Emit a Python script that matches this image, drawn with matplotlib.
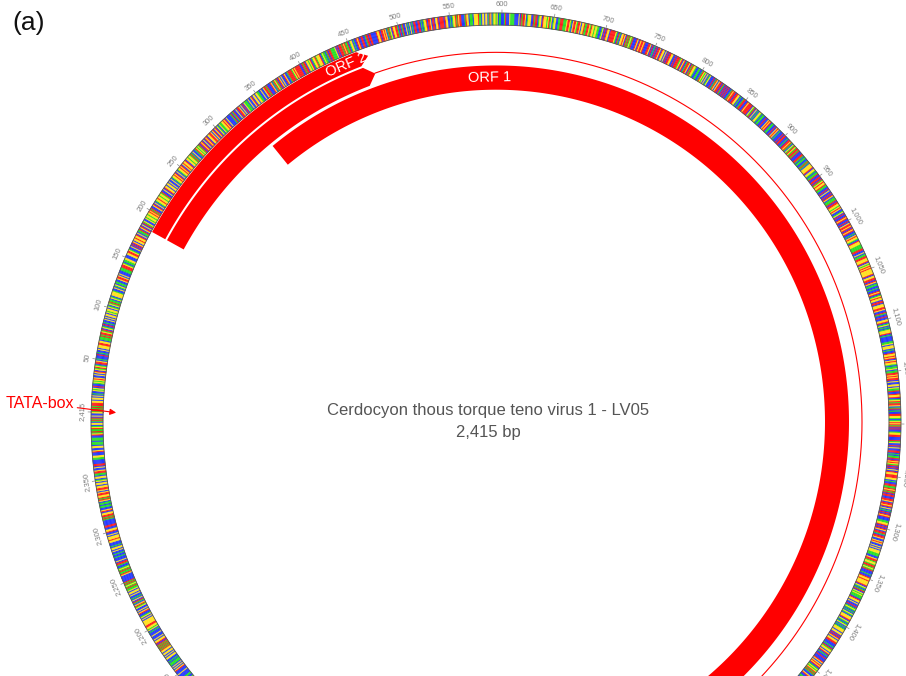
import matplotlib.pyplot as plt
import numpy as np

plt.rcParams['font.family'] = ['Liberation Sans', 'DejaVu Sans']

# genome data
GENOME_LEN = 2415
seq = (
    "TAATATAAAGGCGGCGCTCCGTGCACCTGTGAGCCGCGACGTAGTCAAGCTCCCACTCCG"
    "CGGGAAGGCTTTATAAGTACGTCACTCCGCGCGGCGTGGCGTCGTATTCGTCGGGGTCCG"
    "CTGCTTCCGAAGCGCCCTTTAAAGTCTTGGCCCGGAAGTCCGCACAGCGGAGGACGCTTA"
    "CGACGCATGCCGTGGTGGAGATACCGACGCTGGAGGTGGTACCGCAGGCGGCGCCGCTGG"
    "AGACGCTGGAGACGAGGACGGTGGTATCGCCTAGTGTACAGACGCAGACGGAAGCGACGA"
    "CGTCGTTGGAGACGCCCCTACTACCGCAAGCGCACGTTTCGCCGACGGCGGTTCCGCCGA"
    "ATACCCAGCTAGTACAGCGCCAGCCTAAAATGAGAAAAACCATAACGGTGACTGGATGGG"
    "ACTGTTCTACAATTTTGCACAAATAGATTACTGGCTCCAGACCAACCTAACAACCCCCAG"
    "GACAAGAGCTATGCAGGAATCACTACCGCTCGCTCAACCAACTCTGGACAAGCAACGGAC"
    "AAAACAGGCCTCTGGATAGAACCCTAGGCTTTCGGGGATTCGGCGGCTAGCTGGTGCTTC"
    "CCTACCCGTTTTCCCCGCATAAGCTGGGCCATAACTGGCAGGGTGATGCTGGCCTTAAAT"
    "TTGAAGTCGAAGTAAGCGGATTAAGTAGGTGGTTCCTGCACAGGCAAAAAGTCATCGGAG"
    "CATATGTACCCAGCAGAAGACCCAAGCACTCACAAGCAGGCGCACAAGGCCACAAATGAC"
    "GACTAAGCATAGGTCCTTCCTAGTGCGCTGCCCACTAGCGAACATCACACACCTAGAACA"
    "AGGCTCCTAACCAGAAAACGTACGCTCGGTCTTCCACCGAGACTTCCACGAGCTCCCACA"
    "ACCTCAAGATCGTAGTAATACCCAATCTTCCTATCGGGGACGGTCTTACCAACATGAGGA"
    "TTCCACGCCACAGCTTTACAAGGTGAGCCTGCACCAGACCACGAAGACAGACCTCGAGGT"
    "CAGGGTTTTAACCGCTTAAGGGACGTGAGAGGGGGACGGAACAGCTTCCTCCAGACTGAG"
    "GCAACGGGAAGCCATCCACCGGACTGCTCTGGGACTCCCCCTTGCGGGCTCCAGGAGACG"
    "AGGTCTTGCTTAAGAGAACGCCGGCGTTACCAGGACTGATAAGCTACTCCAAGGTCTGAG"
    "ATACACCTGGAACCCATGCCACGCCAACTCTTACAGAGTACACGCAGGAAAGGCTCCAAT"
    "TAGATACAACCAAGCAAGACGCTCACAGACCCTTGGACACAGCAATCAAGCCGAGCCGCG"
    "CGGGTTTCCGAATGGTAATGTACCCTCCAGGAGGGGACGTCTACGTGTTTCAGGCGCCAC"
    "TGTCTCGTCGGGACGTCTGCTCTGGGCGGCACAGCGGAACCCTCATGGCGACTCCACCCA"
    "GCGAGACTGTGATATCCGACCTTCTGTCCCATCGCACGACGTGGAGCTCCAAGGGGGAAC"
    "TTCAACCCCCTGTAACGCCCTCCACATCAGTACAAGGACACGAGAAGGCGCAAGGCCCCG"
    "GAAGCACCTGCTCCGCTGCCACCCCCCAAGACTAGGCGCCAGCGCCAAACCCTCCACCCA"
    "CCTCACCCCCGGGCAACGCAGCATCCCTTCCGGAGCAGCAGAACGAGACGTCGTCCTCCT"
    "TCCTCCAGCAGTGGATCAGAAGGGTCCAACAAGCAGCTCCGCAAGCTCCGTAAGGCGATA"
    "GCCTGGCTTAAGCGGCTCCGTACGACTATCGTCCCCGGAGGCCTAGTTCTGGCGCGCCCC"
    "GGAAGAAAGCGAAGGCCCCCTCCTTGGGATACGCGGCATGTCCTACGGACGAAGTACAGG"
    "AGCGCCCCACGCGTGACGGAAGGAGCCATCTAGCGCAAATCCCGCCAGCGTCGTCAACCG"
    "CCGCAGCGGCGGGACTGAAAGTCGTTCCAGGCTCGCCGAGGCTCCAACTGCAGCCTTCGA"
    "AGGGGGGGCCCCTCCCGCACGGAAGTGCGCACTTCCGCCCCCAGGGGGCTGCGCTTGCGC"
    "GGCGCGTTGCCGCGTAGCGCACCCCCGCAGGCCATTCCCCGGGGAGGATGCGCGCCTTAA"
    "GGCGGCTTCGGCGGCATGAGCGCCAAATTTCAAGCCGCGTCCTTCCCCGCCCAGCGCGCT"
    "TTCTCCGGCGCGGCGGATATATACAGGCGCCCGCCCTCGTGGAAGGGGGCGCGTCCAGCG"
    "CCGTAGCTACGCTCCGCGGCGTTATGTATACCCCCCGATTATGTCCTAACGCCCTCCTCC"
    "GCGGCTCCCGGAGGGCGCCAGGCCAACCCCCTATAAGGCAGCCTTCTTCGATAGGAAGCG"
    "AAGGCGGCGTCGGCTTAAGCCGCAACCCCTTGGCCCAGCCGGCTTTCTTTCCAGTATTAG"
    "TCGGCTATACGCCG"
)
base_colors = {'A': '#ff1a1a', 'C': '#2236ff', 'G': '#ffe11a', 'T': '#22e022'}

# annotations (bp)
orf1_start, orf1_end = 331, 1900
orf2_start, orf2_end = 183, 464
orf22_start, orf22_exon1_end, orf22_end = 183, 465, 1900
tata_pos = 0
tick_positions = list(range(50, 2351, 50))

W, H = 906, 676
cx, cy = 496, 422
RMAX = 430
YSTRETCH = 1.01

fig = plt.figure(figsize=(W / 100, H / 100), dpi=100)
ax = fig.add_axes([(cx - RMAX) / W, (H - cy - RMAX * YSTRETCH) / H,
                   2 * RMAX / W, 2 * RMAX * YSTRETCH / H], projection='polar')
ax.set_aspect('auto')
ax.set_theta_offset(np.radians(178.6))
ax.set_theta_direction(-1)
ax.set_ylim(0, RMAX)
ax.axis('off')
ROT0 = 178.6 - 90


def th(p):
    return np.asarray(p, dtype=float) / GENOME_LEN * 2 * np.pi


def rot(p):
    return ROT0 - np.degrees(th(p))


# sequence ring
R_IN, R_OUT = 393, 405
n = len(seq)
w = 2 * np.pi / n
cols = [base_colors[b] for b in seq]
ax.bar((np.arange(n) + 0.5) * w, R_OUT - R_IN, width=w, bottom=R_IN,
       color=cols, edgecolor=cols, linewidth=0.25)
tt = np.linspace(0, 2 * np.pi, 1000)
ax.plot(tt, np.full_like(tt, R_OUT), color='#555555', lw=0.6)
ax.plot(tt, np.full_like(tt, R_IN), color='#555555', lw=0.6)

# ticks
for p in [0] + tick_positions:
    t = th(p)
    ax.plot([t, t], [R_OUT, R_OUT + 3], color='#888888', lw=0.5)
    lab = f"{GENOME_LEN:,}" if p == 0 else f"{p:,}"
    ax.text(t, R_OUT + 8.5, lab, rotation=rot(p), rotation_mode='anchor',
            ha='center', va='center', fontsize=5.5, color='#808080')


def band(p0, p1, r0, r1, head=0):
    t = np.linspace(th(p0), th(p1 - head), 300)
    tp = np.concatenate([t, [th(p1)], t[::-1]])
    rp = np.concatenate([np.full(len(t), r1), [(r0 + r1) / 2], np.full(len(t), r0)])
    ax.fill(tp, rp, color='#ff0000', lw=0)


band(orf2_start, orf2_end, 377, 392, head=10)
band(orf22_start, orf22_exon1_end, 356, 375, head=10)
band(orf1_start, orf1_end, 329, 353)
ti = np.linspace(th(orf22_exon1_end), th(orf22_end), 500)
ax.plot(ti, np.full_like(ti, 366), color='#ff0000', lw=0.8)

ax.text(th(441), 384, 'ORF 2', rotation=rot(441), rotation_mode='anchor',
        ha='center', va='center', color='white', fontsize=10.5)
ax.text(th(587), 341, 'ORF 1', rotation=rot(587), rotation_mode='anchor',
        ha='center', va='center', color='white', fontsize=10.5)

ax.annotate('TATA-box', xy=(th(tata_pos), 380), xytext=(6, H - 403), textcoords='figure pixels',
            ha='left', va='center', color='#ff0000', fontsize=11.5,
            arrowprops=dict(arrowstyle='-|>', color='#ff0000', lw=0.8, mutation_scale=9,
                            shrinkA=0, shrinkB=0))

fig.text(488 / W, 1 - 410 / H, 'Cerdocyon thous torque teno virus 1 - LV05',
         ha='center', va='center', fontsize=12, color='#555555')
fig.text(488 / W, 1 - 432 / H, f"{GENOME_LEN:,} bp",
         ha='center', va='center', fontsize=12, color='#555555')
fig.text(12 / W, 1 - 23 / H, '(a)', ha='left', va='center', fontsize=19, color='#111111')

fig.savefig('out.png', dpi=100)
